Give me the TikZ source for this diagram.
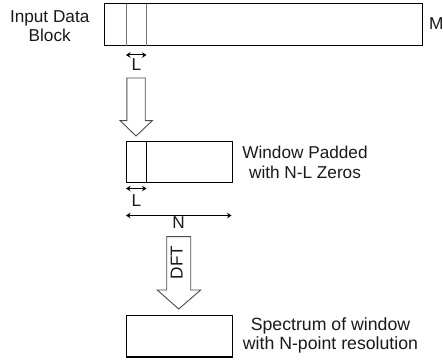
\documentclass[tikz,border=0pt]{standalone}
\usepackage{fontspec}
\setmainfont{Liberation Sans}
\usetikzlibrary{arrows.meta}
\begin{document}
\begin{tikzpicture}[x=1pt,y=1pt,
  lbl/.style={font=\fontsize{17.2}{19.6}\selectfont, inner sep=0pt, align=center, text=black!90},
  biglbl/.style={lbl, font=\fontsize{17.7}{19.6}\selectfont},
  block/.style={draw=black, line width=1.3pt, inner sep=0pt, anchor=south west},
  divider/.style={draw=black!55, line width=0.9pt},
  solid divider/.style={draw=black, line width=1.3pt},
  dim/.style={line width=1pt, {Stealth[length=4.5pt,width=5.5pt]}-{Stealth[length=4.5pt,width=5.5pt]}},
  hollow/.style={draw=black!70, line width=0.9pt, fill=white, line join=miter}]
\useasboundingbox (0,0) rectangle (443,363);

% input data block with the first window marked
\node[block, minimum width=317.5pt, minimum height=41.5pt] (input) at (104,317) {};
\draw[divider] (126,317) -- (126,358.5);
\draw[divider] (146.5,317) -- (146.5,358.5);
\node[lbl] (inlbl) at (49.7,337) {Input Data\\Block};
\node[lbl, anchor=base west] (mlbl) at (428.8,333) {M};

\coordinate (la1) at (126,308);
\coordinate (lb1) at (146.5,308);
\draw[dim] (la1) -- (lb1);
\node[lbl, anchor=base] (l1) at (136.5,292) {L};

% hollow arrow down to the padded window
\draw[hollow] (126.8,285) -- (145.2,285) -- (145.2,242.3) -- (152.3,242.3)
  -- (136,227) -- (120.2,242.3) -- (126.8,242.3) -- cycle;

% window padded with zeros
\node[block, minimum width=105.5pt, minimum height=41.5pt] (win) at (126,179.5) {};
\draw[solid divider] (146.5,179.5) -- (146.5,221);
\node[lbl] (winlbl) at (305,200.5) {Window Padded\\with N-L Zeros};

\coordinate (la2) at (126,174.5);
\coordinate (lb2) at (146.5,174.5);
\draw[dim] (la2) -- (lb2);
\node[lbl, anchor=base] (l2) at (136.5,156.3) {L};

\coordinate (na) at (126,147.5);
\coordinate (nb) at (231.5,147.5);
\draw[dim] (na) -- (nb);
\node[lbl, anchor=base] (nlbl) at (178.7,134) {N};

% DFT arrow
\draw[hollow] (166.7,126.3) -- (190.7,126.3) -- (190.7,73) -- (200.7,73)
  -- (178.7,54) -- (157.3,73) -- (166.7,73) -- cycle;
\node[lbl, rotate=90] (dft) at (176.7,100.5) {DFT};

% spectrum block
\node[block, minimum width=105.5pt, minimum height=41.5pt] (spec) at (126,5.5) {};
\node[biglbl] (speclbl) at (330.5,27.5) {Spectrum of window\\with N-point resolution};
\end{tikzpicture}
\end{document}
